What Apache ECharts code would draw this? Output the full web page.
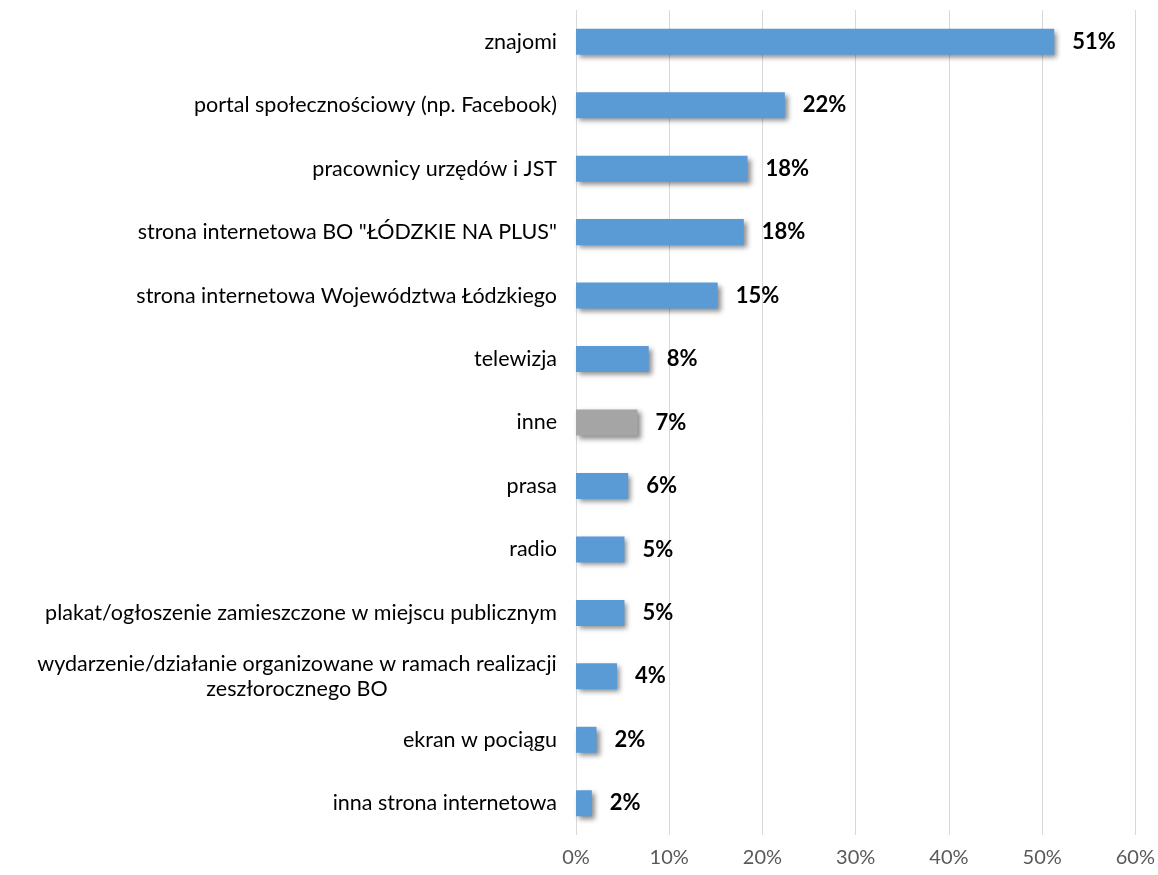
<!DOCTYPE html>
<html>
<head>
<meta charset="utf-8">
<script src="https://cdn.jsdelivr.net/npm/echarts@6/dist/echarts.min.js"></script>
<style>
  html, body { margin: 0; padding: 0; background: #fff; }
  #chart { width: 1158px; height: 875px; }
</style>
</head>
<body>
<div id="chart"></div>
<script>
  var categories = [
    'znajomi',
    'portal społecznościowy (np. Facebook)',
    'pracownicy urzędów i JST',
    'strona internetowa BO "ŁÓDZKIE NA PLUS"',
    'strona internetowa Województwa Łódzkiego',
    'telewizja',
    'inne',
    'prasa',
    'radio',
    'plakat/ogłoszenie zamieszczone w miejscu publicznym',
    'wydarzenie/działanie organizowane w ramach realizacji\nzeszłorocznego BO',
    'ekran w pociągu',
    'inna strona internetowa'
  ]
  var values = [51.3, 22.4, 18.4, 18.0, 15.2, 7.8, 6.6, 5.6, 5.2, 5.2, 4.4, 2.2, 1.7]
  var highlighted = 'inne'
  var xTicks = [0, 10, 20, 30, 40, 50, 60]

  var chart = echarts.init(document.getElementById('chart'))
  chart.setOption({
    animation: false,
    textStyle: { fontFamily: 'Lato' },
    grid: { left: 576, right: 22, top: 10, bottom: 40 },
    xAxis: {
      type: 'value',
      min: xTicks[0],
      max: xTicks[xTicks.length - 1],
      interval: 10,
      axisLine: { show: false },
      axisTick: { show: false },
      splitLine: { lineStyle: { color: '#D9D9D9', width: 1 } },
      axisLabel: {
        formatter: '{value}%',
        color: '#595959',
        fontSize: 20,
        margin: 13
      }
    },
    yAxis: {
      type: 'category',
      inverse: true,
      data: categories,
      axisLine: { show: false },
      axisTick: { show: false },
      axisLabel: {
        color: '#000',
        fontSize: 21.5,
        margin: 19,
        lineHeight: 25,
        formatter: function (v) {
          // wrapped label is centred like in the original
          if (v.indexOf('\n') >= 0) return '{c|' + v + '}'
          return v
        },
        rich: {
          c: { width: 520, align: 'center', fontSize: 21.5, lineHeight: 25, color: '#000', fontFamily: 'Lato' }
        }
      }
    },
    series: [{
      type: 'bar',
      barWidth: '41%',
      data: values.map(function (v, i) {
        return {
          value: v,
          itemStyle: { color: categories[i] === highlighted ? '#A5A5A5' : '#5B9BD5' }
        }
      }),
      itemStyle: {
        shadowColor: 'rgba(0,0,0,0.45)',
        shadowBlur: 5,
        shadowOffsetX: 3,
        shadowOffsetY: 3
      },
      label: {
        show: true,
        position: 'right',
        distance: 18,
        color: '#000',
        fontWeight: 'bold',
        fontSize: 22,
        formatter: function (p) { return Math.round(p.value) + '%' }
      }
    }]
  })
</script>
</body>
</html>
